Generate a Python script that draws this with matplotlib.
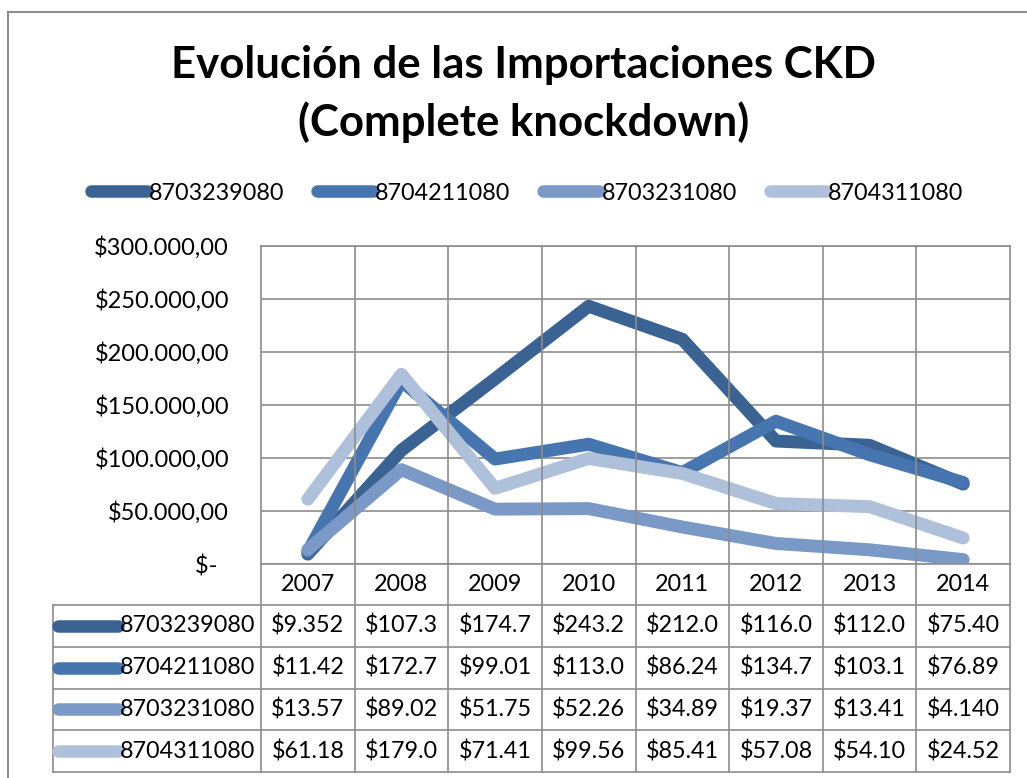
import matplotlib
matplotlib.use("Agg")
import matplotlib.pyplot as plt
from matplotlib.lines import Line2D
from matplotlib import transforms
from matplotlib.ticker import FuncFormatter

years = ["2007", "2008", "2009", "2010", "2011", "2012", "2013", "2014"]
codes = ["8703239080", "8704211080", "8703231080", "8704311080"]
s_8703239080 = [9352, 107300, 174700, 243200, 212000, 116000, 112000, 75400]
s_8704211080 = [11420, 172700, 99010, 113000, 86240, 134700, 103100, 76890]
s_8703231080 = [13570, 89020, 51750, 52260, 34890, 19370, 13410, 4140]
s_8704311080 = [61180, 179000, 71410, 99560, 85410, 57080, 54100, 24520]
series = [s_8703239080, s_8704211080, s_8703231080, s_8704311080]
colors = ["#3A6394", "#4675AF", "#7A99C6", "#AFC0DA"]

W, H = 1027, 778
plt.rcParams["font.family"] = ["Lato", "DejaVu Sans"]
fig = plt.figure(figsize=(W / 100, H / 100), dpi=100)

# plot area in pixels
L, R, T, B = 261, 1010, 246, 564
ax = fig.add_axes([L / W, 1 - B / H, (R - L) / W, (B - T) / H])

grid_c = "#8C8C8C"
x = [i + 0.5 for i in range(len(years))]
for vals, c, name in zip(series, colors, codes):
    ax.plot(x, vals, color=c, lw=9.3, solid_capstyle="round",
            solid_joinstyle="round", label=name)

ax.set_xlim(0, len(years))
ax.set_ylim(0, 300000)
ax.set_yticks(range(0, 300001, 50000))
ax.set_xticks([])


def money(v, pos):
    if v == 0:
        return "$-  "
    s = f"{v:,.2f}"
    return "$" + s.replace(",", "X").replace(".", ",").replace("X", ".")


ax.yaxis.set_major_formatter(FuncFormatter(money))
ax.tick_params(axis="y", length=0, pad=23, labelsize=17)
ax.grid(axis="y", color=grid_c, lw=1.2)
ax.set_axisbelow(True)
for sp in ax.spines.values():
    sp.set_color(grid_c)
    sp.set_linewidth(1.2)

# mixed transform: x in data units, y in figure pixels from top
fy = lambda p: 1 - p / H
tr = transforms.blended_transform_factory(ax.transData, fig.transFigure)

row_top = 605
row_h = 41.75
tab_bottom = row_top + row_h * len(codes)
first_col = -(L - 53) / ((R - L) / len(years))

# vertical grid lines across the plot, year row and table
for i in range(len(years) + 1):
    y0 = fy(T) if 0 < i < len(years) else fy(B)
    fig.add_artist(Line2D([i, i], [y0, fy(tab_bottom)], transform=tr,
                          color=grid_c, lw=1.2))
fig.add_artist(Line2D([first_col, first_col], [fy(row_top), fy(tab_bottom)],
                      transform=tr, color=grid_c, lw=1.2))
for r in range(len(codes) + 1):
    yy = fy(row_top + r * row_h)
    fig.add_artist(Line2D([first_col, len(years)], [yy, yy], transform=tr,
                          color=grid_c, lw=1.2))

# year labels
for xi, yr in zip(x, years):
    fig.text(xi, fy((B + row_top) / 2), yr, transform=tr, ha="center",
             va="center", fontsize=16.8)


def short(v):
    return ("$" + f"{v:,.0f}".replace(",", "."))[:6]


handle_len = 60 / ((R - L) / len(years))
for r, (vals, c, name) in enumerate(zip(series, colors, codes)):
    yc = fy(row_top + (r + 0.5) * row_h)
    x0 = first_col + 0.05
    fig.add_artist(Line2D([x0, x0 + handle_len], [yc, yc], transform=tr,
                          color=c, lw=9, solid_capstyle="round"))
    fig.text(x0 + handle_len + 0.02, yc, name, transform=tr, ha="left",
             va="center", fontsize=16.8)
    for xi, v in zip(x, vals):
        fig.text(xi, yc, short(v), transform=tr, ha="center", va="center",
                 fontsize=16.8)

# title
fig.text(0.51, fy(94), "Evolución de las Importaciones CKD\n(Complete knockdown)",
         ha="center", va="center", fontsize=31.5, fontweight="bold",
         linespacing=1.45)

# legend
handles = [Line2D([], [], color=c, lw=9, solid_capstyle="round") for c in colors]
fig.legend(handles, codes, loc="center", bbox_to_anchor=(527 / W, fy(193)),
           ncol=4, frameon=False, fontsize=16.8, handlelength=2.4,
           handletextpad=0.1, columnspacing=1.4, borderaxespad=0)

# chart border
fig.add_artist(Line2D([8 / W, 8 / W], [0, fy(12)], color="#8C8C8C", lw=1.5))
fig.add_artist(Line2D([8 / W, 1], [fy(12), fy(12)], color="#8C8C8C", lw=1.5))

fig.savefig("out.png", dpi=100)
